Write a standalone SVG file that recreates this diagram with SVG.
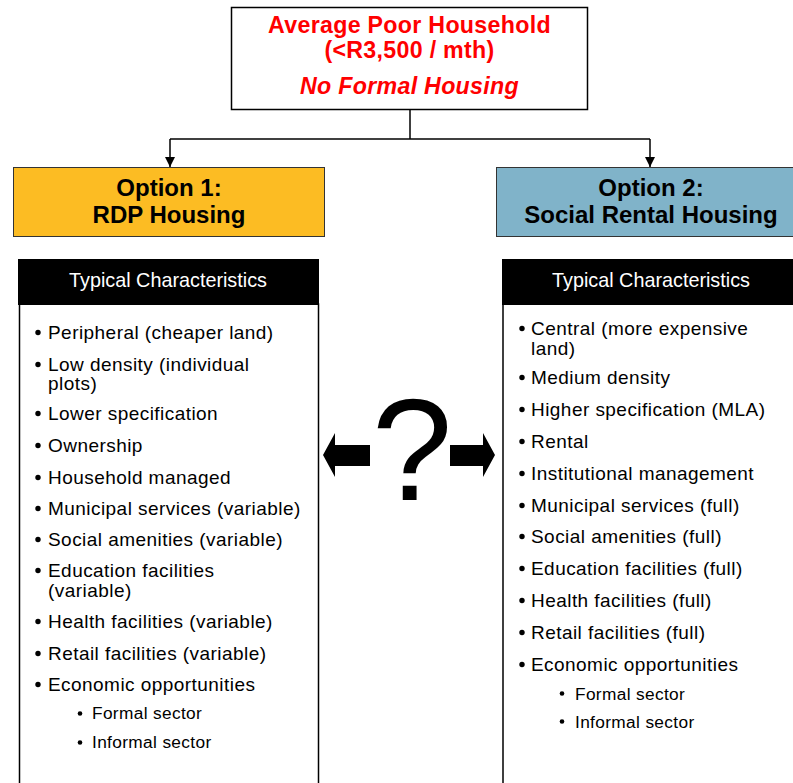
<svg xmlns="http://www.w3.org/2000/svg" width="793" height="783" viewBox="0 0 793 783">
<defs>
<style>
.title{font-family:"Liberation Sans",Arial,sans-serif;font-weight:bold;font-size:23.2px;letter-spacing:0.3px;fill:#FF0000;text-anchor:middle}
.opt{font-family:"Liberation Sans",Arial,sans-serif;font-weight:bold;font-size:24px;fill:#000;text-anchor:middle}
.hdr{font-family:"Liberation Sans",Arial,sans-serif;font-size:19.8px;fill:#fff;text-anchor:middle}
.it{font-family:"Liberation Sans",Arial,sans-serif;font-size:19px;letter-spacing:0.45px;fill:#000}
.sub{font-family:"Liberation Sans",Arial,sans-serif;font-size:17.3px;letter-spacing:0.35px;fill:#000}
.conn{fill:none;stroke:#000;stroke-width:1.5}
</style>
<marker id="ah" viewBox="0 0 10 10" refX="10" refY="5" markerWidth="10" markerHeight="10" markerUnits="userSpaceOnUse" orient="auto">
<path d="M0,0 L10,5 L0,10 z" fill="#000"/>
</marker>
</defs>
<rect width="793" height="783" fill="#fff"/>

<g id="connectors">
<path class="conn" d="M410,110 V139"/>
<path class="conn" d="M170,139 H650"/>
<path class="conn" d="M170,139 V167" marker-end="url(#ah)"/>
<path class="conn" d="M650,139 V167" marker-end="url(#ah)"/>
</g>

<g id="top">
<rect x="231.5" y="7.5" width="356" height="102" fill="#fff" stroke="#000" stroke-width="1.5"/>
<text class="title" x="409.5" y="33">Average Poor Household</text>
<text class="title" x="409.5" y="58">(&lt;R3,500 / mth)</text>
<text class="title" x="409.5" y="94" font-style="italic">No Formal Housing</text>
</g>

<g id="option1">
<rect x="13.5" y="167.5" width="311" height="69" fill="#FCBC23" stroke="#333" stroke-width="1"/>
<text class="opt" x="169" y="196">Option 1:</text>
<text class="opt" x="169" y="223">RDP Housing</text>
</g>

<g id="option2">
<rect x="496.5" y="167.5" width="310" height="69" fill="#80B3C9" stroke="#333" stroke-width="1"/>
<text class="opt" x="651" y="196">Option 2:</text>
<text class="opt" x="651" y="223">Social Rental Housing</text>
</g>

<g id="list1">
<rect x="19.5" y="304" width="299" height="490" fill="#fff" stroke="#000" stroke-width="1.5"/>
<rect x="18" y="259" width="301" height="46" fill="#000"/>
<text class="hdr" x="168" y="287">Typical Characteristics</text>
<g fill="#000">
<circle cx="38" cy="332.5" r="2.7"/>
<circle cx="38" cy="364.5" r="2.7"/>
<circle cx="38" cy="413.5" r="2.7"/>
<circle cx="38" cy="445.5" r="2.7"/>
<circle cx="38" cy="477.5" r="2.7"/>
<circle cx="38" cy="508.5" r="2.7"/>
<circle cx="38" cy="539.5" r="2.7"/>
<circle cx="38" cy="570.5" r="2.7"/>
<circle cx="38" cy="621.5" r="2.7"/>
<circle cx="38" cy="653.5" r="2.7"/>
<circle cx="38" cy="684.5" r="2.7"/>
<circle cx="80" cy="713.5" r="2.3"/>
<circle cx="80" cy="742.5" r="2.3"/>
</g>
<text class="it" x="48" y="339">Peripheral (cheaper land)</text>
<text class="it" x="48" y="371">Low density (individual</text>
<text class="it" x="48" y="390">plots)</text>
<text class="it" x="48" y="420">Lower specification</text>
<text class="it" x="48" y="452">Ownership</text>
<text class="it" x="48" y="484">Household managed</text>
<text class="it" x="48" y="515">Municipal services (variable)</text>
<text class="it" x="48" y="546">Social amenities (variable)</text>
<text class="it" x="48" y="577">Education facilities</text>
<text class="it" x="48" y="597">(variable)</text>
<text class="it" x="48" y="628">Health facilities (variable)</text>
<text class="it" x="48" y="660">Retail facilities (variable)</text>
<text class="it" x="48" y="691">Economic opportunities</text>
<text class="sub" x="92" y="719">Formal sector</text>
<text class="sub" x="92" y="748">Informal sector</text>
</g>

<g id="list2">
<rect x="503" y="304" width="300" height="490" fill="#fff" stroke="#000" stroke-width="1.5"/>
<rect x="502" y="259" width="300" height="46" fill="#000"/>
<text class="hdr" x="651" y="287">Typical Characteristics</text>
<g fill="#000">
<circle cx="522" cy="328.5" r="2.7"/>
<circle cx="522" cy="377.5" r="2.7"/>
<circle cx="522" cy="409.5" r="2.7"/>
<circle cx="522" cy="441.5" r="2.7"/>
<circle cx="522" cy="473.5" r="2.7"/>
<circle cx="522" cy="505.5" r="2.7"/>
<circle cx="522" cy="536.5" r="2.7"/>
<circle cx="522" cy="568.5" r="2.7"/>
<circle cx="522" cy="600.5" r="2.7"/>
<circle cx="522" cy="632.5" r="2.7"/>
<circle cx="522" cy="664.5" r="2.7"/>
<circle cx="562" cy="693.5" r="2.3"/>
<circle cx="562" cy="721.5" r="2.3"/>
</g>
<text class="it" x="531" y="335">Central (more expensive</text>
<text class="it" x="531" y="355">land)</text>
<text class="it" x="531" y="384">Medium density</text>
<text class="it" x="531" y="416">Higher specification (MLA)</text>
<text class="it" x="531" y="448">Rental</text>
<text class="it" x="531" y="480">Institutional management</text>
<text class="it" x="531" y="512">Municipal services (full)</text>
<text class="it" x="531" y="543">Social amenities (full)</text>
<text class="it" x="531" y="575">Education facilities (full)</text>
<text class="it" x="531" y="607">Health facilities (full)</text>
<text class="it" x="531" y="639">Retail facilities (full)</text>
<text class="it" x="531" y="671">Economic opportunities</text>
<text class="sub" x="575" y="700">Formal sector</text>
<text class="sub" x="575" y="728">Informal sector</text>
</g>

<g id="compare">
<polygon points="323,455 335,433 335,445 370,445 370,466 335,466 335,477" fill="#000"/>
<polygon points="495,455 483,433 483,445 450,445 450,466 483,466 483,477" fill="#000"/>
<text x="412" y="500" font-family="Liberation Sans, Arial, sans-serif" font-size="145" text-anchor="middle" fill="#000">?</text>
</g>
</svg>
